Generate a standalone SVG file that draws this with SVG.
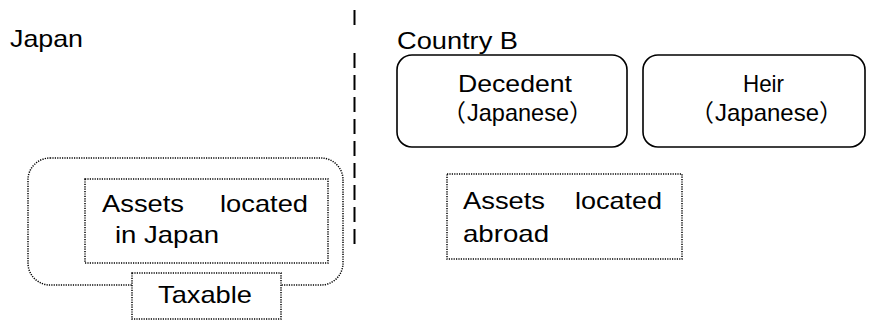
<svg xmlns="http://www.w3.org/2000/svg" width="872" height="322" viewBox="0 0 872 322">
  <style>
    .t { font-family: "Liberation Sans", Arial, "Noto Sans CJK JP", sans-serif; font-size: 24px; fill: #000; }
    .cjk { font-family: "Noto Sans CJK JP", sans-serif; }
    .solid { fill: #fff; stroke: #000; stroke-width: 1.6; }
    .dotted { fill: #fff; stroke: #000; stroke-width: 1.5; stroke-dasharray: 1.2 1.2; }
    .divider { fill: none; stroke: #000; stroke-width: 2; }
  </style>

  <!-- border between the two countries -->
  <g id="connectors">
    <line class="divider" x1="354.5" y1="10" x2="354.5" y2="25"/>
    <line class="divider" x1="354.5" y1="53" x2="354.5" y2="245" stroke-dasharray="15 7"/>
  </g>

  <!-- region labels -->
  <g id="label-japan">
    <text class="t" x="10" y="47" textLength="73" lengthAdjust="spacingAndGlyphs">Japan</text>
  </g>
  <g id="label-country-b">
    <text class="t" x="397" y="49" textLength="121" lengthAdjust="spacingAndGlyphs">Country B</text>
  </g>

  <!-- taxable scope (outer dotted outline) -->
  <g id="taxable-scope">
    <rect class="dotted" x="28" y="158" width="315" height="127" rx="22" ry="22"/>
  </g>

  <!-- assets in Japan -->
  <g id="assets-japan">
    <rect class="dotted" x="85" y="179" width="243" height="84"/>
    <text class="t" x="102" y="212" textLength="82" lengthAdjust="spacingAndGlyphs">Assets</text>
    <text class="t" x="220" y="212" textLength="88" lengthAdjust="spacingAndGlyphs">located</text>
    <text class="t" x="115" y="243" textLength="104" lengthAdjust="spacingAndGlyphs">in Japan</text>
  </g>

  <!-- taxable tag -->
  <g id="taxable">
    <rect class="dotted" x="132" y="273" width="149" height="46"/>
    <text class="t" x="158" y="303" textLength="94" lengthAdjust="spacingAndGlyphs">Taxable</text>
  </g>

  <!-- decedent -->
  <g id="decedent">
    <rect class="solid" x="397" y="55" width="230" height="92" rx="15" ry="15"/>
    <text class="t" x="458" y="92" textLength="114" lengthAdjust="spacingAndGlyphs">Decedent</text>
    <text class="t" y="121"><tspan class="cjk" x="442">（</tspan><tspan x="467" textLength="102" lengthAdjust="spacingAndGlyphs">Japanese</tspan><tspan class="cjk" x="569">）</tspan></text>
  </g>

  <!-- heir -->
  <g id="heir">
    <rect class="solid" x="643" y="55" width="222" height="92" rx="15" ry="15"/>
    <text class="t" x="743" y="92" textLength="41" lengthAdjust="spacingAndGlyphs">Heir</text>
    <text class="t" y="121"><tspan class="cjk" x="690">（</tspan><tspan x="715" textLength="104" lengthAdjust="spacingAndGlyphs">Japanese</tspan><tspan class="cjk" x="819">）</tspan></text>
  </g>

  <!-- assets abroad -->
  <g id="assets-abroad">
    <rect class="dotted" x="447" y="174" width="235" height="85"/>
    <text class="t" x="463" y="209" textLength="82" lengthAdjust="spacingAndGlyphs">Assets</text>
    <text class="t" x="575" y="209" textLength="87" lengthAdjust="spacingAndGlyphs">located</text>
    <text class="t" x="463" y="242" textLength="86" lengthAdjust="spacingAndGlyphs">abroad</text>
  </g>
</svg>
